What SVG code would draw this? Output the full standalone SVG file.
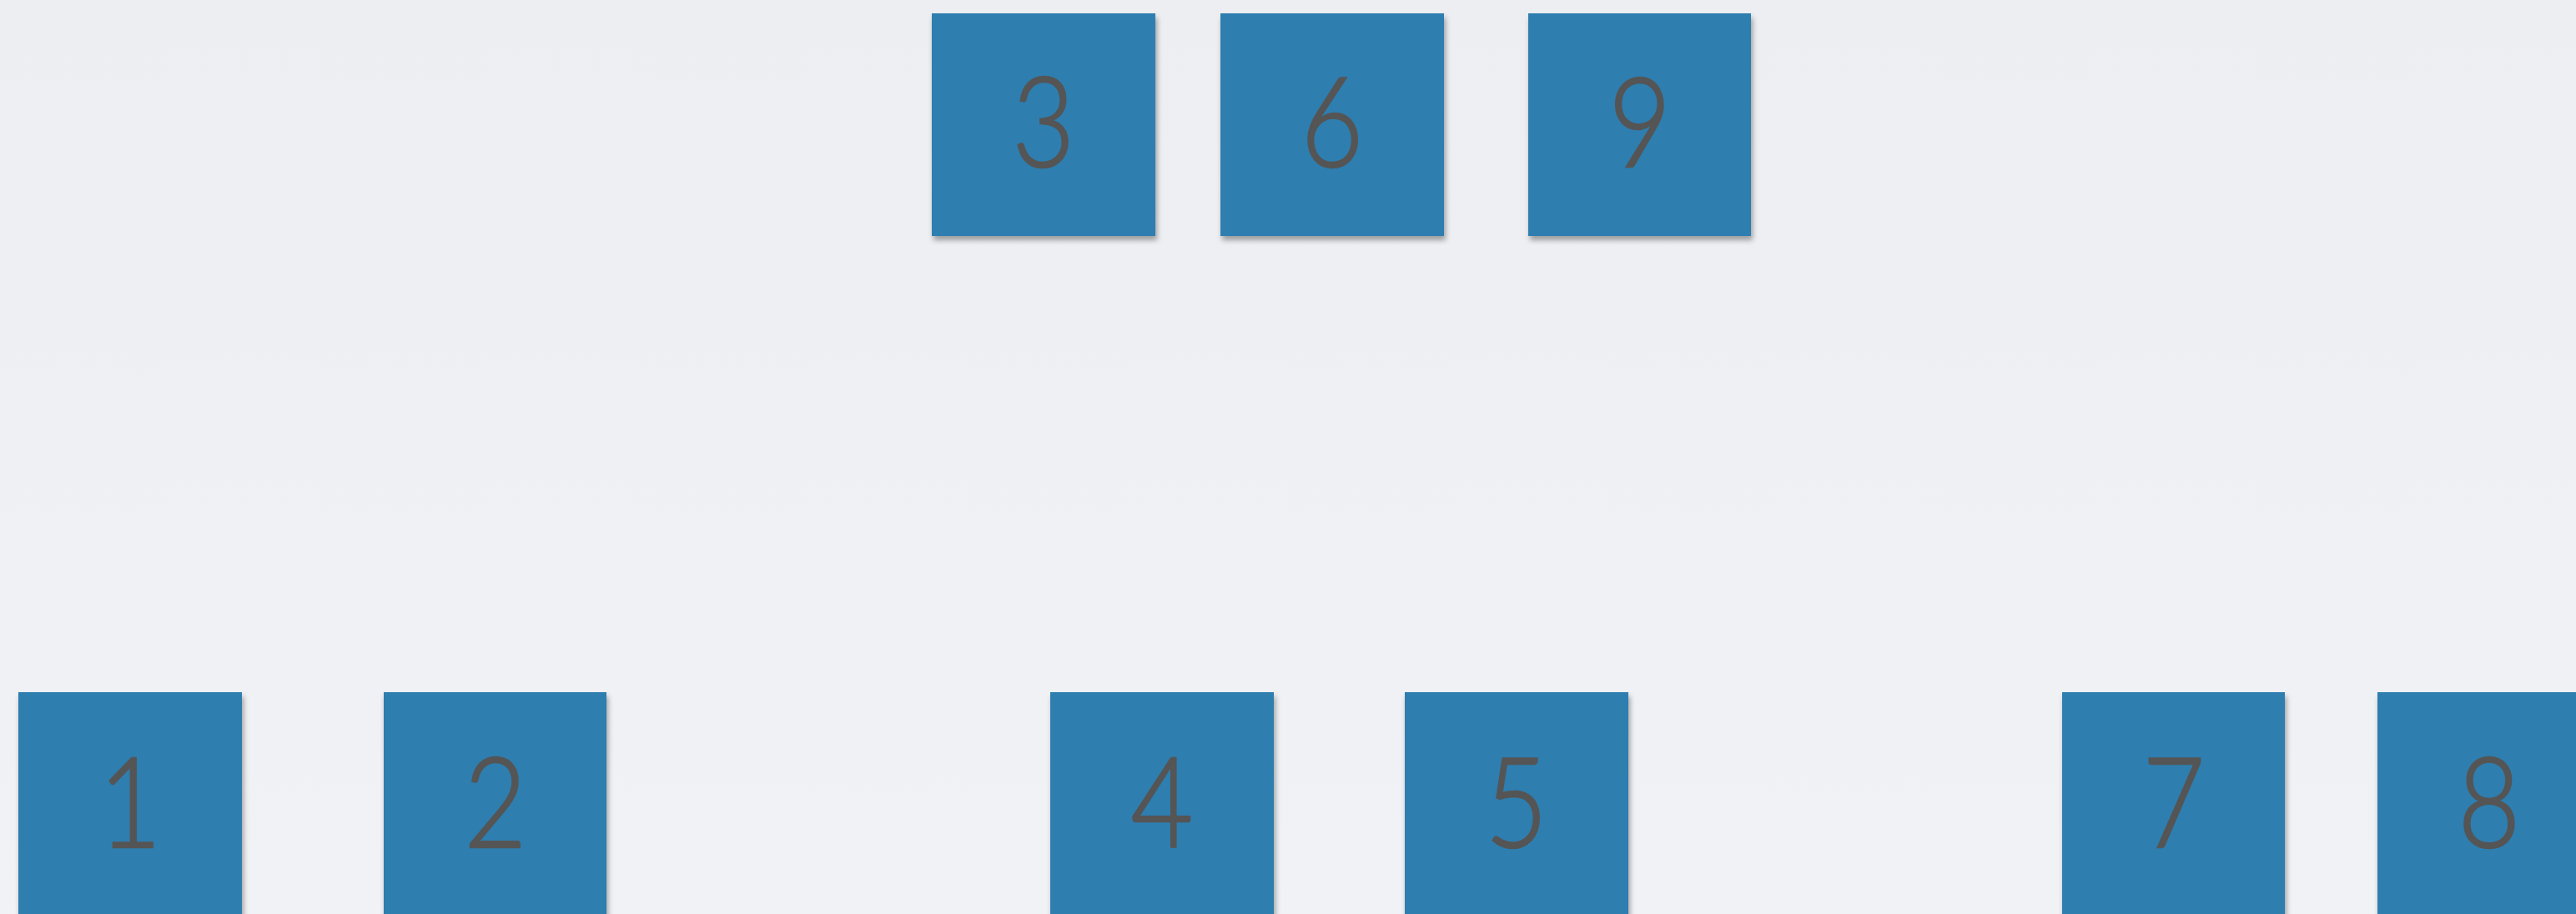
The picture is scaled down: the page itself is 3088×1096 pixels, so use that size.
<svg xmlns="http://www.w3.org/2000/svg" width="3088" height="1096" viewBox="0 0 3088 1096">
<defs>
<linearGradient id="bg" x1="0" y1="0" x2="0" y2="1">
<stop offset="0" stop-color="#eceef1"/>
<stop offset="1" stop-color="#f1f2f5"/>
</linearGradient>
<filter id="sh" x="-10%" y="-10%" width="125%" height="125%">
<feDropShadow dx="2" dy="5" stdDeviation="3" flood-color="#000" flood-opacity="0.35"/>
</filter>
<style>
.box{fill:#2e7eb0;filter:url(#sh)}
.lbl{font-family:Lato,"Open Sans","Liberation Sans",sans-serif;font-weight:300;font-size:150px;fill:#555555;stroke:#555555;stroke-width:2.5;text-anchor:middle}
</style>
</defs>
<rect width="3088" height="1096" fill="url(#bg)"/>
<g id="node-3"><rect class="box" x="1117" y="16" width="268" height="267"/><text class="lbl" transform="translate(1251,200) scale(0.86,1)">3</text></g>
<g id="node-6"><rect class="box" x="1463" y="16" width="268" height="267"/><text class="lbl" transform="translate(1597,200) scale(0.86,1)">6</text></g>
<g id="node-9"><rect class="box" x="1832" y="16" width="267" height="267"/><text class="lbl" transform="translate(1966,200) scale(0.86,1)">9</text></g>
<g id="node-1"><rect class="box" x="22" y="830" width="268" height="300"/><text class="lbl" transform="translate(156,1016) scale(0.86,1)">1</text></g>
<g id="node-2"><rect class="box" x="460" y="830" width="267" height="300"/><text class="lbl" transform="translate(594,1016) scale(0.86,1)">2</text></g>
<g id="node-4"><rect class="box" x="1259" y="830" width="268" height="300"/><text class="lbl" transform="translate(1393,1016) scale(0.86,1)">4</text></g>
<g id="node-5"><rect class="box" x="1684" y="830" width="268" height="300"/><text class="lbl" transform="translate(1818,1016) scale(0.86,1)">5</text></g>
<g id="node-7"><rect class="box" x="2472" y="830" width="267" height="300"/><text class="lbl" transform="translate(2606,1016) scale(0.86,1)">7</text></g>
<g id="node-8"><rect class="box" x="2850" y="830" width="268" height="300"/><text class="lbl" transform="translate(2984,1016) scale(0.86,1)">8</text></g>
<g id="connectors"/>
</svg>
